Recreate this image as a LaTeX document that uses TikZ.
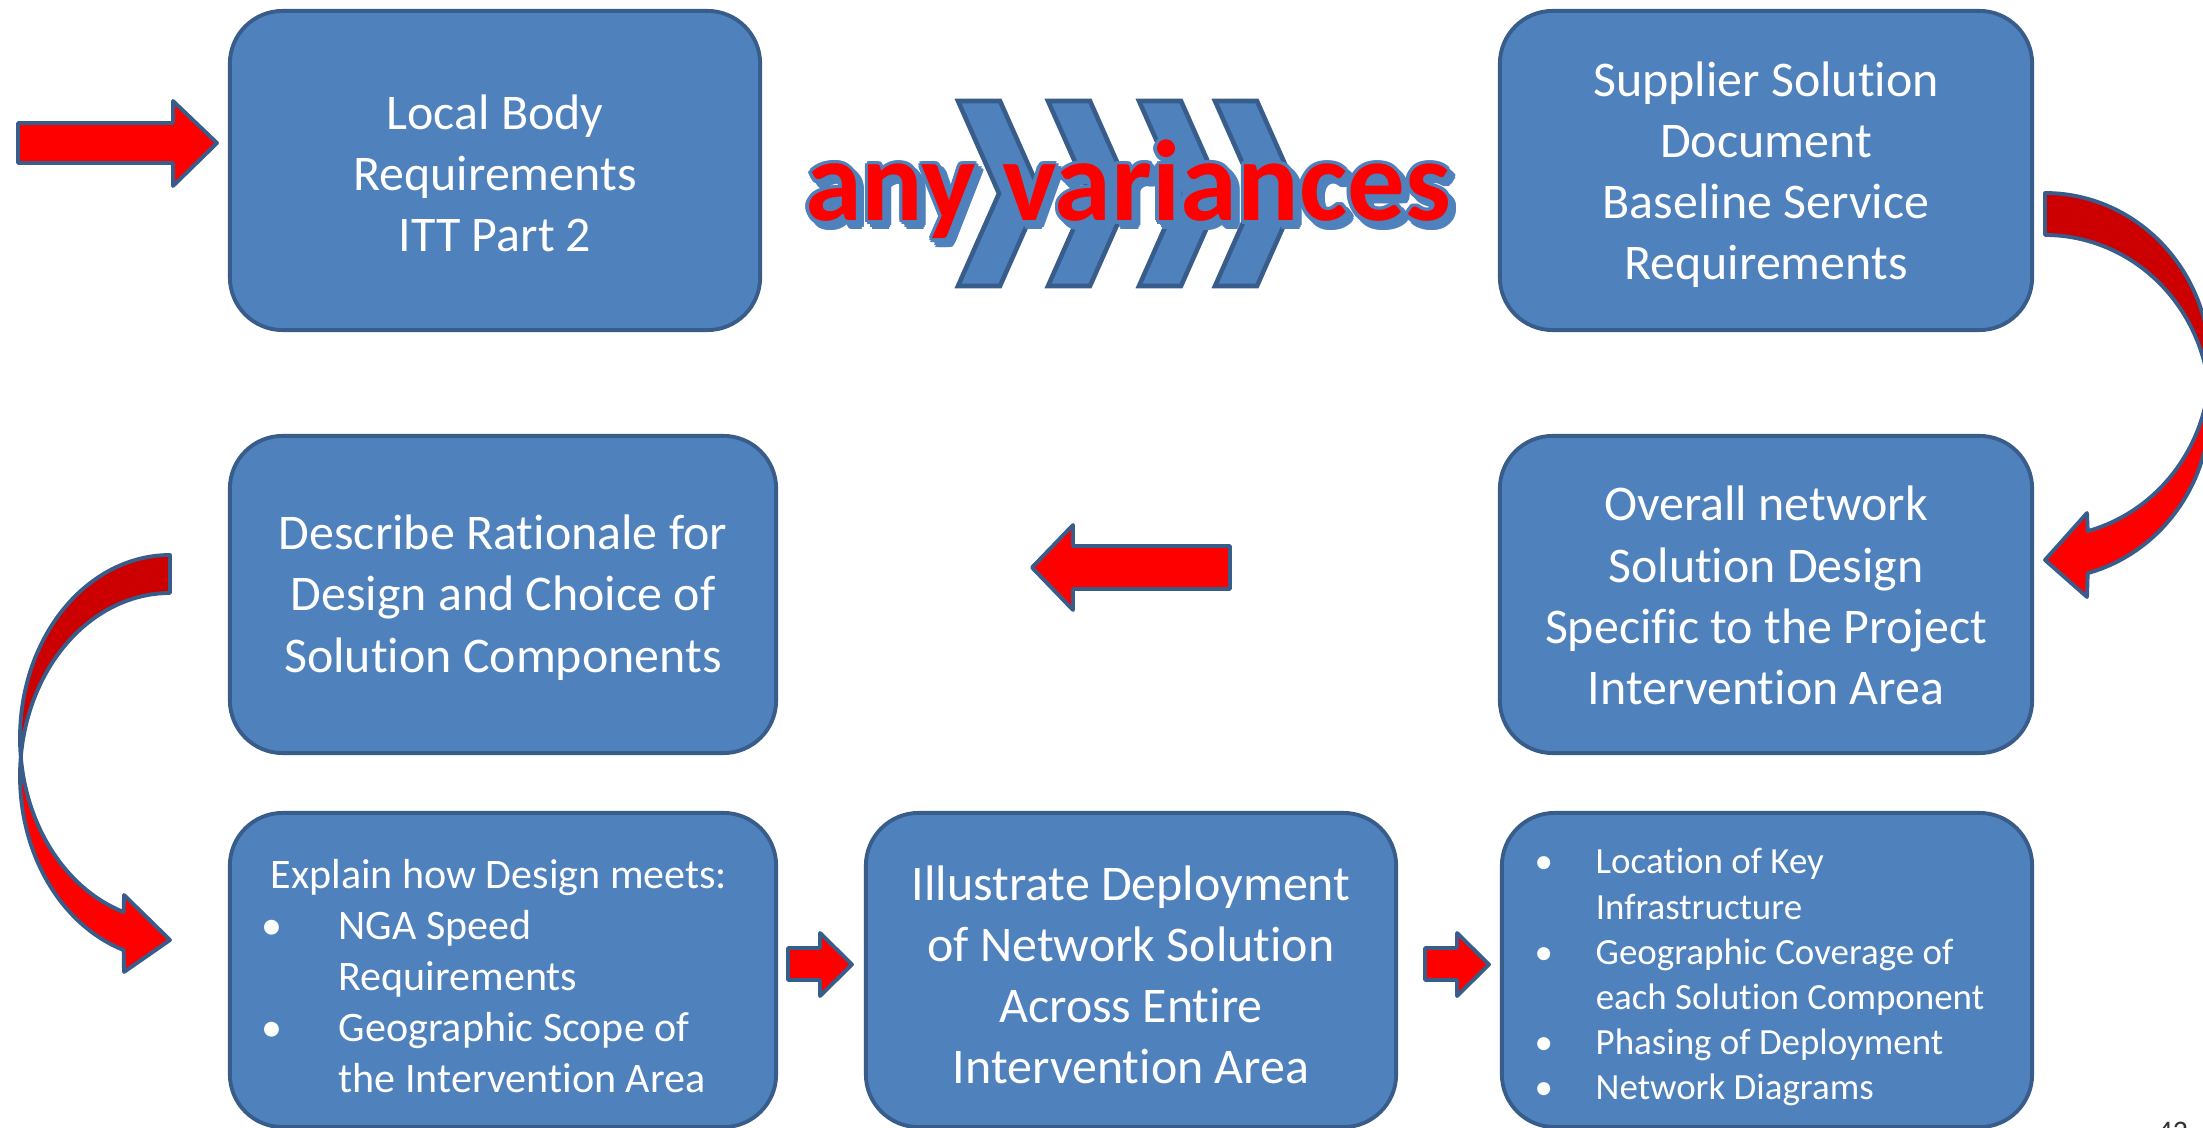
\documentclass[tikz,border=0pt]{standalone}
\usepackage{fontspec}
\setmainfont{Carlito}[RawFeature={-liga}]
\usetikzlibrary{calc}
\definecolor{boxfill}{HTML}{4F81BD}
\definecolor{boxline}{HTML}{385D8A}
\definecolor{darkred}{HTML}{CC0000}
\definecolor{arrred}{HTML}{FF0000}
\begin{document}
\begin{tikzpicture}[x=0.01cm,y=-0.01cm,
  box/.style={draw=boxline, fill=boxfill, line width=1.1pt, rounded corners=15pt, inner sep=0pt},
  boxtext/.style={text=white, align=center, inner sep=0pt, font=\fontsize{14.2}{17.4}\selectfont},
  txt/.style={text=white, inner sep=0pt, align=left},
  blockarrow/.style={fill=arrred, draw=boxline, line width=1.1pt, line join=round},
  backarrow/.style={fill=darkred, draw=boxline, line width=1.1pt, line join=round},
  chev/.style={fill=boxfill, draw=boxline, line width=1.3pt, line join=miter},
  vtext/.style={inner sep=0pt, anchor=base, font=\fontsize{32.7}{39}\selectfont\bfseries}]
\useasboundingbox (0,0) rectangle (2203,1128);

% boxes
\node[box, minimum width=5.30cm, minimum height=3.19cm] (lb) at (495,170.5) {};
\node[box, minimum width=5.32cm, minimum height=3.19cm] (ss) at (1766,170.5) {};
\node[box, minimum width=5.46cm, minimum height=3.17cm] (dr) at (503,594.5) {};
\node[box, minimum width=5.32cm, minimum height=3.17cm] (ov) at (1766,594.5) {};
\node[box, minimum width=5.46cm, minimum height=3.14cm] (ex) at (503,970) {};
\node[box, minimum width=5.30cm, minimum height=3.14cm] (il) at (1131,970) {};
\node[box, minimum width=5.30cm, minimum height=3.14cm] (bl) at (1767,970) {};

\node[boxtext] (lbtext) at ($(lb)+(0,3)$) {Local Body\\Requirements\\ITT Part 2};
\node[boxtext] (sstext) at ($(ss)+(0,4)$) {Supplier Solution\\Document\\Baseline Service\\Requirements};
\node[boxtext] (drtext) at ($(dr)+(0,3)$) {Describe Rationale for\\Design and Choice of\\Solution Components};
\node[boxtext] (ovtext) at ($(ov)+(0,1)$) {Overall network\\Solution Design\\Specific to the Project\\Intervention Area};
\node[boxtext] (iltext) at ($(il)+(0,5)$) {Illustrate Deployment\\of Network Solution\\Across Entire\\Intervention Area};

\node[txt, anchor=west, font=\fontsize{11.95}{14.5}\selectfont] (extext) at (270,976)
 {Explain how Design meets:\\
  \makebox[0.68cm][l]{\hspace*{-0.09cm}\textbullet}NGA Speed\\
  \hspace*{0.68cm}Requirements\\
  \makebox[0.68cm][l]{\hspace*{-0.09cm}\textbullet}Geographic Scope of\\
  \hspace*{0.68cm}the Intervention Area};
\node[txt, anchor=west, font=\fontsize{10.5}{12.8}\selectfont] (bltext) at (1538,977)
 {\makebox[0.57cm][l]{\hspace*{-0.04cm}\textbullet}Location of Key\\
  \hspace*{0.57cm}Infrastructure\\
  \makebox[0.57cm][l]{\hspace*{-0.04cm}\textbullet}Geographic Coverage of\\
  \hspace*{0.57cm}each Solution Component\\
  \makebox[0.57cm][l]{\hspace*{-0.04cm}\textbullet}Phasing of Deployment\\
  \makebox[0.57cm][l]{\hspace*{-0.04cm}\textbullet}Network Diagrams};

% chevrons
\foreach \cx in {958,1048,1139,1215}{
  \draw[chev] (\cx,101) -- (\cx+42,101) -- (\cx+83,193.5) -- (\cx+42,286) -- (\cx,286) -- (\cx+41,193.5) -- cycle;
}
% any variances
\foreach \a in {0,30,...,330}{
  \node[vtext, text=boxfill] (vs\a) at ($(1133,226)+(\a:3.5)$) {any variances};
}
\foreach \a in {0,30,...,330}{
  \node[vtext, text=boxfill] (vo\a) at ($(1128,221)+(\a:3.5)$) {any variances};
}
\node[vtext, text=arrred] (var) at (1128,221) {any variances};

% straight block arrows
\draw[blockarrow] (18,123) -- (173,123) -- (173,101) -- (217,143) -- (173,186) -- (173,163) -- (18,163) -- cycle;
\draw[blockarrow] (1230,546) -- (1073,546) -- (1073,525) -- (1032,567.5) -- (1073,610) -- (1073,589) -- (1230,589) -- cycle;
\draw[blockarrow] (788,948) -- (820,948) -- (820,933) -- (852,964.5) -- (820,996) -- (820,980) -- (788,980) -- cycle;
\draw[blockarrow] (1425,948) -- (1457,948) -- (1457,933) -- (1489,964.5) -- (1457,996) -- (1457,980) -- (1425,980) -- cycle;

% curved arrow right (Supplier -> Overall)
\draw[backarrow] plot[domain=0:97, samples=60] ({2045+165*sin(\x)},{365-172*cos(\x)})
  -- plot[domain=83:0, samples=60] ({2045+165*sin(\x)},{407-172*cos(\x)}) -- cycle;
\draw[blockarrow] plot[domain=97:165, samples=60] ({2045+165*sin(\x)},{365-172*cos(\x)})
  -- (2087,513) -- (2045,560) -- (2087,597)
  -- plot[domain=165:83, samples=60] ({2045+165*sin(\x)},{407-172*cos(\x)}) -- cycle;

% curved arrow left (Describe -> Explain)
\draw[backarrow] plot[domain=0:96, samples=60] ({170-150*sin(\x)},{738-183*cos(\x)})
  -- plot[domain=84:0, samples=60] ({170-150*sin(\x)},{776-183*cos(\x)}) -- cycle;
\draw[blockarrow] plot[domain=96:162, samples=60] ({170-150*sin(\x)},{738-183*cos(\x)})
  -- (124,895) -- (170,940) -- (124,972)
  -- plot[domain=162:84, samples=60] ({170-150*sin(\x)},{776-183*cos(\x)}) -- cycle;

% page number (cut off)
\node[anchor=north west, inner sep=0pt, font=\fontsize{8.5}{10}\selectfont, text=black!80] (pg) at (2157,1121) {42};
\end{tikzpicture}
\end{document}
